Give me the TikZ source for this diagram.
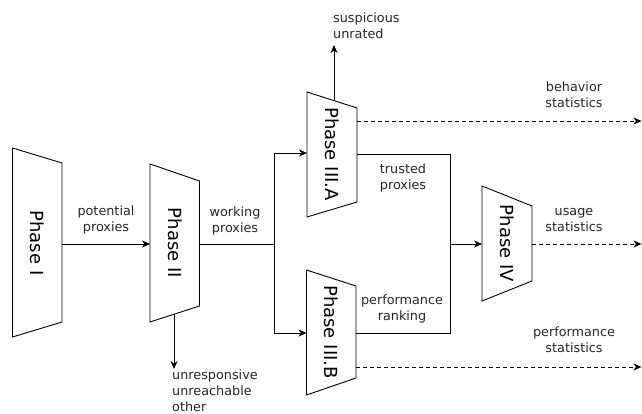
\documentclass[tikz,border=0pt]{standalone}
\usepackage{fontspec}
\setmainfont{DejaVu Sans}
\usetikzlibrary{arrows.meta}
\begin{document}
\begin{tikzpicture}[x=1pt,y=-1pt,
  phase/.style={draw=black,line width=0.9pt,line join=miter},
  lbl/.style={font=\fontsize{12.8}{16}\selectfont,align=center,inner sep=0pt,text=black!85},
  ptxt/.style={font=\fontsize{18}{20}\selectfont,rotate=-90,inner sep=0pt},
  conn/.style={draw=black,line width=0.9pt},
  arr/.style={conn,-{Stealth[length=8pt,width=7pt,inset=2.5pt]}},
  darr/.style={arr,dash pattern=on 3.5pt off 3.5pt}]
\useasboundingbox (0,0) rectangle (642,414);
% shapes
\draw[phase] (12.5,148) -- (62,163) -- (62,322) -- (12.5,337) -- cycle;
\draw[phase] (150,164) -- (199.5,181) -- (199.5,306) -- (150,322) -- cycle;
\draw[phase] (307,92) -- (357,108) -- (357,202) -- (307,217) -- cycle;
\draw[phase] (306.5,270) -- (356,286) -- (356,378) -- (306.5,395) -- cycle;
\draw[phase] (482,186) -- (532,206) -- (532,281) -- (482,301) -- cycle;
\node[ptxt] (p1) at (37,243) {Phase I};
\node[ptxt] (p2) at (175,243) {Phase II};
\node[ptxt] (p3a) at (332,154) {Phase III.A};
\node[ptxt] (p3b) at (331,332) {Phase III.B};
\node[ptxt] (p4) at (507,243.5) {Phase IV};
% connection points
\coordinate (p1r) at (62,244);
\coordinate (p2l) at (150,244);
\coordinate (p2r) at (199.5,244);
\coordinate (p2b) at (174,314);
\coordinate (jw) at (274,244);
\coordinate (jwu) at (274,153);
\coordinate (jwd) at (274,333);
\coordinate (p3al) at (307,153);
\coordinate (p3bl) at (306.5,333);
\coordinate (p3at) at (334,100.5);
\coordinate (p3ar) at (357,154);
\coordinate (p3ard) at (357,121);
\coordinate (p3br) at (356,333);
\coordinate (p3brd) at (356,367);
\coordinate (ju) at (450,154);
\coordinate (jd) at (450,333);
\coordinate (jm) at (450,244);
\coordinate (p4l) at (482,244);
\coordinate (p4r) at (532,244);
\coordinate (e1) at (641.5,121);
\coordinate (e2) at (641.5,244);
\coordinate (e3) at (641.5,367);
\coordinate (up) at (334,45);
\coordinate (down) at (174,369);
% connectors
\draw[arr] (p1r) -- (p2l);
\draw[conn] (p2r) -- (jw);
\draw[arr] (jw) -- (jwu) -- (p3al);
\draw[arr] (jw) -- (jwd) -- (p3bl);
\draw[arr] (p2b) -- (down);
\draw[arr] (p3at) -- (up);
\draw[conn] (p3ar) -- (ju) -- (jd) -- (p3br);
\draw[arr] (jm) -- (p4l);
\draw[darr] (p3ard) -- (e1);
\draw[darr] (p4r) -- (e2);
\draw[darr] (p3brd) -- (e3);
% labels
\node[lbl] (l1) at (106,220) {potential\\proxies};
\node[lbl] (l2) at (235,221) {working\\proxies};
\node[lbl] (l3) at (403,178) {trusted\\proxies};
\node[lbl] (l4) at (402,308.5) {performance\\ranking};
\node[lbl,align=left,anchor=west] (l5) at (333,26) {suspicious\\unrated};
\node[lbl,align=left,anchor=west] (l6) at (172,391) {unresponsive\\unreachable\\other};
\node[lbl] (l7) at (574,94.5) {behavior\\statistics};
\node[lbl] (l8) at (574,220.5) {usage\\statistics};
\node[lbl] (l9) at (574,339.5) {performance\\statistics};
\end{tikzpicture}
\end{document}
